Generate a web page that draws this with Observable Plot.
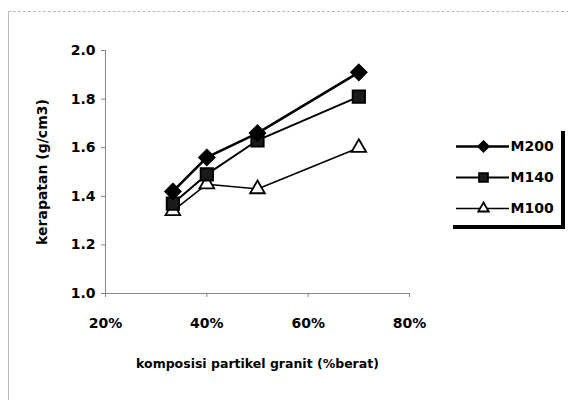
<!DOCTYPE html>
<html><head><meta charset="utf-8">
<script src="https://cdn.jsdelivr.net/npm/d3@7"></script>
<script src="https://cdn.jsdelivr.net/npm/@observablehq/plot@0.6"></script>
<style>
html,body{margin:0;padding:0;background:#fff;}
#wrap{position:relative;width:568px;height:400px;overflow:hidden;}
#frame{position:absolute;left:8px;top:11px;width:600px;height:420px;border-left:1px solid #bbb;border-top:1px dashed #bbb;}
#chart{position:absolute;left:0;top:0;}
#legend{position:absolute;left:453px;top:131px;width:108px;height:94px;border-right:4px solid #000;border-bottom:4px solid #000;}
text{font-family:"DejaVu Sans",sans-serif;}
</style></head>
<body><div id="wrap"><div id="frame"></div><div id="chart"></div><div id="legend"></div></div>
<script>
const composition = [0.333, 0.40, 0.50, 0.70];
const seriesNames = ["M200", "M140", "M100"];
const m200 = [1.42, 1.56, 1.66, 1.91];
const m140 = [1.37, 1.49, 1.63, 1.81];
const m100 = [1.34, 1.45, 1.43, 1.60];
const yTicks = [1.0, 1.2, 1.4, 1.6, 1.8, 2.0];
const xTicks = [0.2, 0.4, 0.6, 0.8];

const seriesValues = {M200: m200, M140: m140, M100: m100};
const rows = [];
for (const s of seriesNames) composition.forEach((c, i) => rows.push({series: s, x: c, y: seriesValues[s][i]}));

const style = {
  M200: {symbol: "diamond2", fill: "#000", stroke: "#000", r: 7, lr: 4.8, sw: 2.6},
  M140: {symbol: "square", fill: "#1a1a1a", stroke: "#000", r: 7, lr: 5, sw: 2},
  M100: {symbol: "triangle2", fill: "#fff", stroke: "#000", r: 7, lr: 5, sw: 1.5}
};

const drawOrder = ["M100", "M140", "M200"];
const marks = [];
for (const s of drawOrder) {
  const d = rows.filter(r => r.series === s);
  marks.push(Plot.line(d, {x: "x", y: "y", stroke: "#000", strokeWidth: style[s].sw}));
}
for (const s of drawOrder) {
  const d = rows.filter(r => r.series === s);
  marks.push(Plot.dot(d, {x: "x", y: "y", symbol: () => style[s].symbol, r: style[s].r, fill: style[s].fill, stroke: style[s].stroke, strokeWidth: 1.8}));
}

const chart = Plot.plot({
  width: 568, height: 400,
  marginLeft: 105, marginRight: 159, marginTop: 50, marginBottom: 107,
  style: {fontFamily: '"DejaVu Sans", sans-serif', background: "transparent", overflow: "visible"},
  x: {domain: [0.2, 0.8]},
  y: {domain: [1.0, 2.0]},
  marks: [
    Plot.ruleX([0.2], {stroke: "#888", strokeWidth: 1}),
    Plot.ruleY([1.0], {stroke: "#888", strokeWidth: 1}),
    Plot.axisY({ticks: yTicks, tickFormat: d3.format(".1f"), tickSize: 4, tickPadding: 6, stroke: "#888",
      fontSize: 14, fontWeight: "bold", fill: "#000",
      label: "kerapatan (g/cm3)", labelAnchor: "center", labelArrow: "none", labelOffset: 68}),
    Plot.axisX({ticks: xTicks, tickFormat: d3.format(".0%"), tickSize: 4, tickPadding: 21, stroke: "#888",
      fontSize: 14, fontWeight: "bold", fill: "#000",
      label: "komposisi partikel granit (%berat)", labelAnchor: "center", labelArrow: "none", labelOffset: 74}),
    ...marks
  ]
});
chart.querySelectorAll("g[aria-label='y-axis label'] text").forEach(t => {t.setAttribute("font-size", "14"); t.setAttribute("font-weight", "bold");});
chart.querySelectorAll("g[aria-label='x-axis label'] text").forEach(t => {t.setAttribute("font-size", "12.5"); t.setAttribute("font-weight", "bold");});
document.getElementById("chart").append(chart);

// legend
const legendRows = seriesNames.map(s => ({series: s}));
const legend = Plot.plot({
  width: 108, height: 94, margin: 0,
  style: {fontFamily: '"DejaVu Sans", sans-serif', background: "transparent", overflow: "visible"},
  x: {domain: [0, 108], axis: null},
  y: {type: "point", domain: seriesNames, range: [14, 77], padding: 0, axis: null},
  marks: [
    ...seriesNames.map(s => Plot.ruleY([s], {y: d => d, x1: 3, x2: 56, stroke: "#000", strokeWidth: style[s].sw})),
    ...seriesNames.map(s => Plot.dot([s], {x: 30, y: d => d, symbol: () => style[s].symbol, r: style[s].lr, fill: style[s].fill, stroke: "#000", strokeWidth: 1.8})),
    Plot.text(legendRows, {x: 57, y: "series", text: "series", textAnchor: "start", fontSize: 14, fontWeight: "bold", fill: "#000"})
  ]
});
document.getElementById("legend").append(legend);
</script></body></html>
